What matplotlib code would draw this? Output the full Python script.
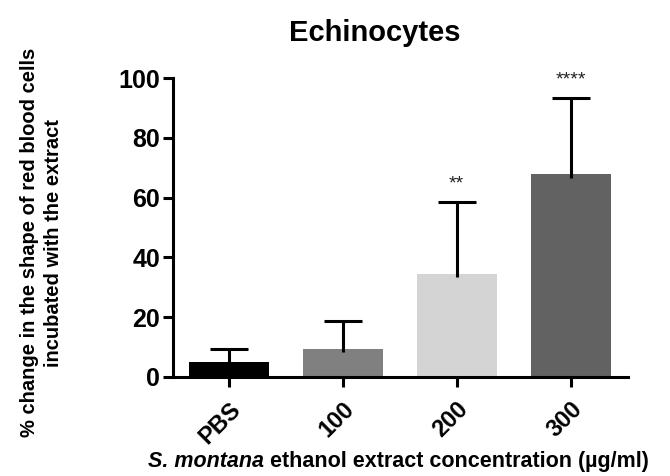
import matplotlib.pyplot as plt
import numpy as np

groups = ['PBS', '100', '200', '300']
means = [5.0, 9.5, 34.5, 67.8]
errs = [4.3, 9.2, 24.0, 25.4]
stars = ['', '', '**', '****']
colors = ['#000000', '#808080', '#d4d4d4', '#626262']

plt.rcParams['font.family'] = ['Liberation Sans', 'DejaVu Sans']

fig = plt.figure(figsize=(6.7, 4.76), dpi=100)
ax = fig.add_axes([0.258, 0.208, 0.679, 0.628])

x = np.arange(len(groups))
ax.bar(x, means, width=0.7, color=colors, zorder=2)
# error bar drawn upward only, starting just inside the bar
line, caps, bars = ax.errorbar(x, np.array(means) - 1.2, yerr=[np.zeros(len(errs)), np.array(errs) + 1.2],
                               fmt='none', ecolor='black', elinewidth=2.2, capsize=14,
                               capthick=2.2, zorder=3)
caps[0].remove()

for xi, m, e, s in zip(x, means, errs, stars):
    if s:
        ax.annotate(s, (xi, m + e), xytext=(0, 13), textcoords='offset points',
                    ha='center', va='center', fontsize=14, color='#222222',
                    annotation_clip=False)

ax.set_xlim(-0.49, 3.5)
ax.set_ylim(0, 100)
ax.set_yticks([0, 20, 40, 60, 80, 100])
ax.set_xticks(x)
ax.set_xticklabels(groups, rotation=45, fontsize=17, fontweight='bold',
                   rotation_mode='anchor', ha='right')
for lab in ax.get_yticklabels():
    lab.set_fontsize(18)
    lab.set_fontweight('bold')

for side in ['top', 'right']:
    ax.spines[side].set_visible(False)
for side in ['left', 'bottom']:
    ax.spines[side].set_linewidth(2.2)
ax.tick_params(width=2.2, length=7, pad=2)
ax.tick_params(axis='x', pad=8)

fig.text(0.56, 0.93, 'Echinocytes', ha='center', va='center', fontsize=21,
         fontweight='bold')

fig.text(0.062, 0.49, '% change in the shape of red blood cells\nincubated with the extract',
         rotation=90, ha='center', va='center', fontsize=14.5, fontweight='bold',
         linespacing=1.3)

t1 = fig.text(0.221, 0.018, 'S. montana', ha='left', va='baseline', fontsize=15.5,
              fontweight='bold', style='italic')
ax.annotate(' ethanol extract concentration (\u00b5g/ml)', xy=(1, 0), xycoords=t1,
            ha='left', va='bottom', fontsize=15.5, fontweight='bold')

fig.savefig('out.png', dpi=100)
